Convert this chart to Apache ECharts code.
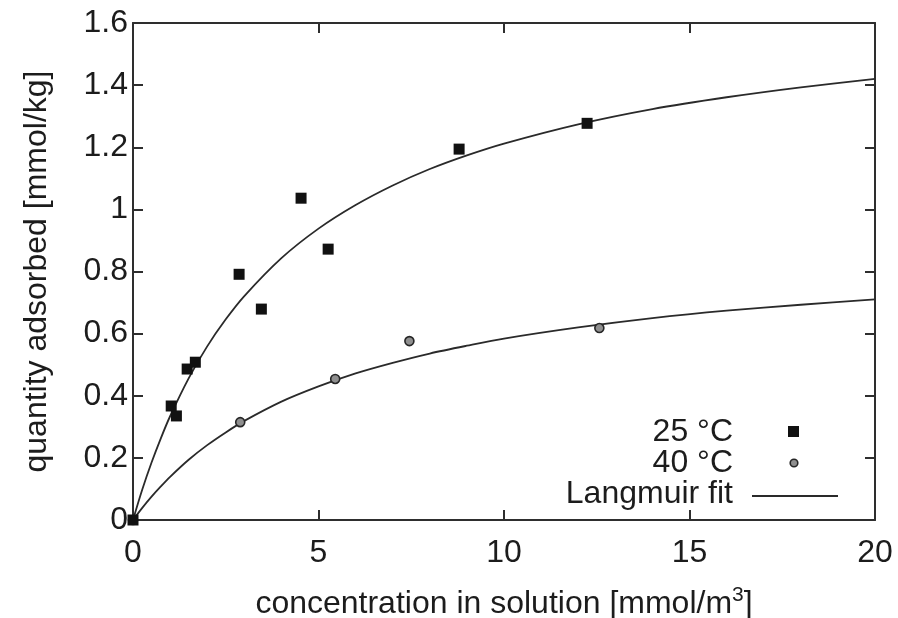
<!DOCTYPE html>
<html>
<head>
<meta charset="utf-8">
<script src="https://cdn.jsdelivr.net/npm/echarts@6/dist/echarts.min.js"></script>
<style>
  html, body { margin: 0; padding: 0; background: #ffffff; }
  #chart { width: 898px; height: 618px; }
</style>
</head>
<body>
<div id="chart"></div>
<script>
// Measured adsorption at 25 °C: concentration [mmol/m3] and quantity adsorbed [mmol/kg]
const conc25 = [0, 1.03, 1.17, 1.46, 1.68, 2.86, 3.46, 4.53, 5.26, 8.79, 12.24];
const q25    = [0, 0.367, 0.335, 0.486, 0.508, 0.791, 0.679, 1.036, 0.872, 1.194, 1.277];

// Measured adsorption at 40 °C
const conc40 = [0, 2.89, 5.45, 7.45, 12.57];
const q40    = [0, 0.315, 0.454, 0.576, 0.618];

// Langmuir fit curves, sampled along the concentration axis
const fitConc = [0, 0.25, 0.5, 0.75, 1, 1.5, 2, 2.5, 3, 4, 5, 6, 7, 8, 9, 10, 12, 14, 16, 18, 20];
const fit25   = [0, 0.098, 0.185, 0.263, 0.334, 0.456, 0.559, 0.646, 0.721, 0.843, 0.938, 1.014, 1.077, 1.130, 1.174, 1.212, 1.274, 1.323, 1.361, 1.393, 1.420];
const fit40   = [0, 0.039, 0.075, 0.108, 0.139, 0.194, 0.241, 0.282, 0.319, 0.381, 0.430, 0.472, 0.506, 0.536, 0.561, 0.584, 0.620, 0.650, 0.674, 0.693, 0.710];

// Axis ranges and tick steps
const xRange = [0, 20], xStep = 5;
const yRange = [0, 1.6], yStep = 0.2;

const legendLabels = ['25 °C', '40 °C', 'Langmuir fit'];

const FONT = "'Liberation Sans', Arial, Helvetica, sans-serif";
const INK = '#1c1c1c';
const FRAME = '#2e2e2e';

const zip = (xs, ys) => xs.map((x, i) => [x, ys[i]]);

const frameAxis = (extra) => Object.assign({
  type: 'value',
  axisLine: { show: true, onZero: false, lineStyle: { color: FRAME, width: 2 } },
  axisTick: { show: true, inside: true, length: 10, lineStyle: { color: FRAME, width: 2 } },
  splitLine: { show: false },
  axisLabel: { show: false }
}, extra);

const chart = echarts.init(document.getElementById('chart'), null, { renderer: 'canvas' });

chart.setOption({
  backgroundColor: '#ffffff',
  animation: false,
  grid: { left: 133, right: 23, top: 23, bottom: 98, containLabel: false, outerBoundsMode: 'none' },
  xAxis: [
    frameAxis({
      position: 'bottom', min: xRange[0], max: xRange[1], interval: xStep,
      axisLabel: { show: true, color: INK, fontFamily: FONT, fontSize: 32, margin: 17,
        formatter: v => String(v) },
      name: 'concentration in solution [mmol/m{sup|3}]',
      nameLocation: 'middle', nameGap: 65,
      nameTextStyle: { color: INK, fontFamily: FONT, fontSize: 32,
        rich: { sup: { fontSize: 21, fontFamily: FONT, color: INK, padding: [0, 0, 18, 0] } } }
    }),
    frameAxis({ position: 'top', min: xRange[0], max: xRange[1], interval: xStep })
  ],
  yAxis: [
    frameAxis({
      position: 'left', min: yRange[0], max: yRange[1], interval: yStep,
      axisLabel: { show: true, color: INK, fontFamily: FONT, fontSize: 32, margin: 5,
        formatter: v => String(Math.round(v * 10) / 10) },
      name: 'quantity adsorbed [mmol/kg]',
      nameLocation: 'middle', nameGap: 80, nameRotate: 90,
      nameTextStyle: { color: INK, fontFamily: FONT, fontSize: 32 }
    }),
    frameAxis({ position: 'right', min: yRange[0], max: yRange[1], interval: yStep })
  ],
  series: [
    {
      name: 'fit25', type: 'line', data: zip(fitConc, fit25),
      showSymbol: false, smooth: 0.3,
      lineStyle: { color: '#2a2a2a', width: 1.8 }, z: 2
    },
    {
      name: 'fit40', type: 'line', data: zip(fitConc, fit40),
      showSymbol: false, smooth: 0.3,
      lineStyle: { color: '#2a2a2a', width: 1.8 }, z: 2
    },
    {
      name: legendLabels[0], type: 'scatter', data: zip(conc25, q25),
      symbol: 'rect', symbolSize: 11,
      itemStyle: { color: '#111111', opacity: 1 }, z: 4
    },
    {
      name: legendLabels[1], type: 'scatter', data: zip(conc40, q40),
      symbol: 'circle', symbolSize: 9,
      itemStyle: { color: '#8f8f8f', borderColor: '#262626', borderWidth: 1.6, opacity: 1 }, z: 3
    }
  ],
  graphic: [
    { type: 'text', right: 898 - 733, top: 416,
      style: { text: legendLabels[0], font: '32px ' + FONT, fill: INK, textAlign: 'right' } },
    { type: 'rect', shape: { x: 788, y: 426, width: 11, height: 11 }, style: { fill: '#111111' } },
    { type: 'text', right: 898 - 733, top: 447,
      style: { text: legendLabels[1], font: '32px ' + FONT, fill: INK, textAlign: 'right' } },
    { type: 'circle', shape: { cx: 794, cy: 463, r: 3.8 },
      style: { fill: '#8f8f8f', stroke: '#262626', lineWidth: 1.6 } },
    { type: 'text', right: 898 - 733, top: 478,
      style: { text: legendLabels[2], font: '32px ' + FONT, fill: INK, textAlign: 'right' } },
    { type: 'line', shape: { x1: 752, y1: 496, x2: 838, y2: 496 },
      style: { stroke: '#2a2a2a', lineWidth: 1.8 } }
  ]
});
</script>
</body>
</html>
